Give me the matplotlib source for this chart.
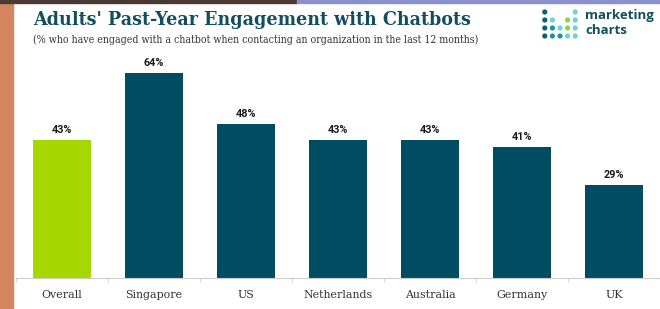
import matplotlib.pyplot as plt
from matplotlib.patches import Rectangle

categories = ['Overall', 'Singapore', 'US', 'Netherlands', 'Australia', 'Germany', 'UK']
values = [43, 64, 48, 43, 43, 41, 29]
bar_colors = ['#a6d800', '#004d63', '#004d63', '#004d63', '#004d63', '#004d63', '#004d63']

title = "Adults' Past-Year Engagement with Chatbots"
subtitle = "(% who have engaged with a chatbot when contacting an organization in the last 12 months)"

W, H = 660, 309
fig = plt.figure(figsize=(W / 100, H / 100), dpi=100)
fig.patch.set_facecolor('white')

# background frame bits around the screenshot
fig.patches.append(Rectangle((0, 0), 13 / W, 1, transform=fig.transFigure,
                             color='#d4845f', zorder=0))
fig.patches.append(Rectangle((0, 1 - 3 / H), 0.45, 3 / H, transform=fig.transFigure,
                             color='#4a3a36', zorder=0))
fig.patches.append(Rectangle((0.45, 1 - 3 / H), 0.55, 3 / H, transform=fig.transFigure,
                             color='#8a90cc', zorder=0))

ax = fig.add_axes([16 / W, (H - 278) / H, (660 - 16) / W, (278 - 54) / H])
x = range(len(categories))
bars = ax.bar(x, values, width=0.63, color=bar_colors, zorder=2)
for b, v in zip(bars, values):
    ax.text(b.get_x() + b.get_width() / 2, v + 1.6, f'{v}%', ha='center', va='bottom',
            fontsize=7.8, fontweight='bold', color='#1a1a1a', family='Roboto')

ax.set_xlim(-0.5, len(categories) - 0.5)
ax.set_ylim(0, 70)
ax.set_xticks(list(x))
ax.set_xticklabels(categories, family='DejaVu Serif', fontsize=7.9, color='#333333')
ax.tick_params(axis='x', length=0, pad=9)
ax.set_yticks([])
for s in ['top', 'right', 'left']:
    ax.spines[s].set_visible(False)
ax.spines['bottom'].set_color('#cccccc')
ax.spines['bottom'].set_linestyle((0, (1, 1)))
ax.spines['bottom'].set_linewidth(0.8)
for i in range(len(categories) + 1):
    ax.plot([i - 0.5, i - 0.5], [0, -1.2], color='#dddddd', lw=0.8, clip_on=False)
ax.set_facecolor('none')

fig.text(33 / W, 1 - 20 / H, title, family='DejaVu Serif', fontweight='bold',
         fontstretch='condensed', fontsize=14.0, color='#124e5e', va='center', ha='left')
fig.text(33 / W, 1 - 40 / H, subtitle, family='DejaVu Serif', fontsize=7.6,
         fontstretch='condensed', color='#333333', va='center', ha='left')

# logo
lax = fig.add_axes([541 / W, 1 - 40 / H, 38 / W, 32 / H])
lax.set_xlim(-0.5, 4.5)
lax.set_ylim(-0.5, 3.5)
lax.axis('off')
dots = [
    (0, 3, '#0c5d78'), (4, 3, '#6fd3d6'),
    (0, 2, '#0c5d78'), (1, 2, '#6fd3d6'), (3, 2, '#8fd14f'), (4, 2, '#6fd3d6'),
    (0, 1, '#0c5d78'), (1, 1, '#1d8fb0'), (2, 1, '#6fd3d6'), (3, 1, '#8fd14f'), (4, 1, '#6fd3d6'),
    (0, 0, '#0c5d78'), (1, 0, '#1d8fb0'), (2, 0, '#1d8fb0'), (3, 0, '#6fd3d6'), (4, 0, '#6fd3d6'),
]
lax.scatter([d[0] for d in dots], [d[1] for d in dots], s=14, c=[d[2] for d in dots],
            edgecolors='none')
fig.text(585 / W, 1 - 16 / H, 'marketing', family='Open Sans', fontweight='bold',
         fontsize=9.5, color='#124e5e', va='center', ha='left')
fig.text(585 / W, 1 - 31 / H, 'charts', family='Open Sans', fontweight='bold',
         fontsize=9.5, color='#124e5e', va='center', ha='left')

fig.savefig('out.png', dpi=100)
